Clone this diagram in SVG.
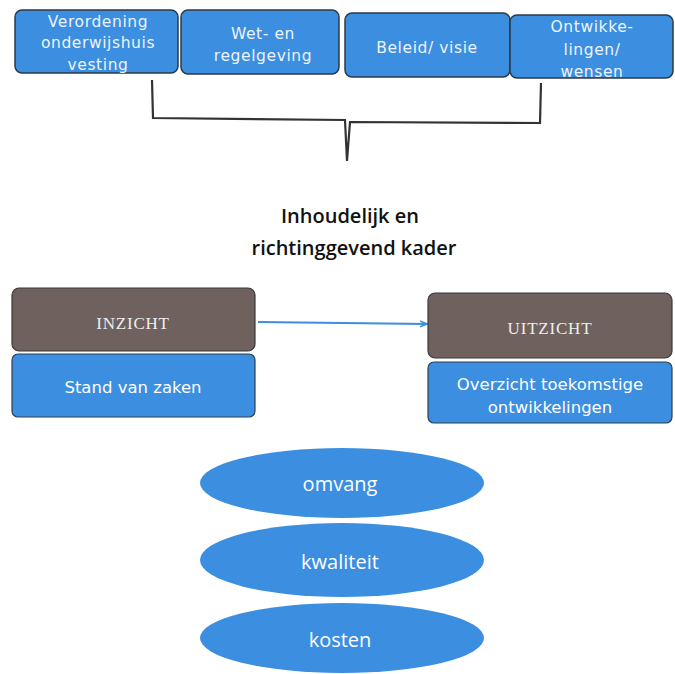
<svg xmlns="http://www.w3.org/2000/svg" width="675" height="674" viewBox="0 0 675 674">
<defs>
<style>
.top{fill:#3b8ee0;stroke:#2e3a45;stroke-width:1.5}
.blue{fill:#3b8ee0;stroke:#2f4050;stroke-width:1.2}
.gray{fill:#6e615e;stroke:#3a3a3a;stroke-width:1.2}
.ell{fill:#3b8ee0}
.tt{font-family:"DejaVu Sans","Liberation Sans",sans-serif;font-size:15.5px;fill:#eef4fb;text-anchor:middle;letter-spacing:0.6px}
.ser{font-family:"Liberation Serif",serif;font-size:17px;fill:#eeeeee;text-anchor:middle;letter-spacing:0.8px}
.wt{font-family:"DejaVu Sans","Liberation Sans",sans-serif;font-size:16.5px;fill:#ffffff;text-anchor:middle}
.et{font-family:"Open Sans","Liberation Sans",sans-serif;font-size:20px;fill:#ffffff;text-anchor:middle}
.title{font-family:"Open Sans","Liberation Sans",sans-serif;font-size:20px;fill:#111;text-anchor:middle;font-weight:600}
</style>
<marker id="ah" markerWidth="8" markerHeight="8" refX="7" refY="4" orient="auto" markerUnits="userSpaceOnUse">
<path d="M0,1 L7,4 L0,7" fill="none" stroke="#3b8ee0" stroke-width="1.5"/>
</marker>
<clipPath id="c1"><rect x="15" y="10" width="163" height="63" rx="7"/></clipPath>
<clipPath id="c4"><rect x="510" y="15" width="163" height="63" rx="7"/></clipPath>
</defs>
<g id="connectors">
<path d="M152,80 L153,118 L345,120 L347,161 L350,122 L540,123 L541,83" fill="none" stroke="#333" stroke-width="2.2"/>
<line x1="258" y1="322" x2="427" y2="324" stroke="#3b8ee0" stroke-width="2" marker-end="url(#ah)"/>
</g>
<g id="n1">
<rect class="top" x="15" y="10" width="163" height="63" rx="7"/>
<g clip-path="url(#c1)">
<text class="tt" x="98" y="27">Verordening</text>
<text class="tt" x="98" y="48">onderwijshuis</text>
<text class="tt" x="98" y="70">vesting</text>
</g>
</g>
<g id="n2">
<rect class="top" x="181" y="10" width="158" height="64" rx="7"/>
<text class="tt" x="263" y="39">Wet- en</text>
<text class="tt" x="263" y="61">regelgeving</text>
</g>
<g id="n3">
<rect class="top" x="345" y="13" width="165" height="64" rx="7"/>
<text class="tt" x="427" y="53">Beleid/ visie</text>
</g>
<g id="n4">
<rect class="top" x="510" y="15" width="163" height="63" rx="7"/>
<g clip-path="url(#c4)">
<text class="tt" x="592" y="32">Ontwikke-</text>
<text class="tt" x="592" y="55">lingen/</text>
<text class="tt" x="592" y="77">wensen</text>
</g>
</g>
<g id="title">
<text class="title" x="350" y="223">Inhoudelijk en</text>
<text class="title" x="354" y="255">richtinggevend kader</text>
</g>
<g id="inzicht">
<rect class="gray" x="12" y="288" width="243" height="63" rx="7"/>
<text class="ser" x="133" y="329">INZICHT</text>
</g>
<g id="stand">
<rect class="blue" x="12" y="354" width="243" height="63" rx="6"/>
<text class="wt" x="133" y="393">Stand van zaken</text>
</g>
<g id="uitzicht">
<rect class="gray" x="428" y="293" width="244" height="65" rx="7"/>
<text class="ser" x="550" y="334">UITZICHT</text>
</g>
<g id="overzicht">
<rect class="blue" x="428" y="362" width="244" height="61" rx="6"/>
<text class="wt" x="550" y="390">Overzicht toekomstige</text>
<text class="wt" x="550" y="413">ontwikkelingen</text>
</g>
<g id="omvang">
<ellipse class="ell" cx="342" cy="483" rx="142" ry="35"/>
<text class="et" x="340" y="491">omvang</text>
</g>
<g id="kwaliteit">
<ellipse class="ell" cx="342" cy="560" rx="142" ry="37"/>
<text class="et" x="340" y="569">kwaliteit</text>
</g>
<g id="kosten">
<ellipse class="ell" cx="342" cy="638" rx="142" ry="35"/>
<text class="et" x="340" y="647">kosten</text>
</g>
</svg>
